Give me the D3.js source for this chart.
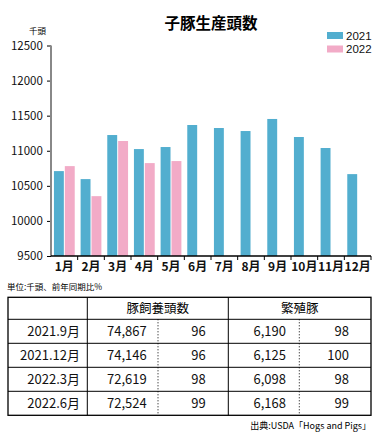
<!DOCTYPE html>
<html>
<head>
<meta charset="utf-8">
<script src="https://cdn.jsdelivr.net/npm/d3@7"></script>
<style>
  body { margin: 0; background: #fff; }
  text { font-family: "Noto Sans CJK JP", "Noto Sans", sans-serif; }
</style>
</head>
<body>
<div id="chart"></div>
<script>
var months = ['1月', '2月', '3月', '4月', '5月', '6月', '7月', '8月', '9月', '10月', '11月', '12月'];
var years = ['2021', '2022'];
var values2021 = [10710, 10596, 11224, 11024, 11053, 11367, 11324, 11281, 11453, 11196, 11039, 10667];
var values2022 = [10781, 10353, 11139, 10824, 10853];
var yTicks = [9500, 10000, 10500, 11000, 11500, 12000, 12500];

var rowLabels = ['2021.9月', '2021.12月', '2022.3月', '2022.6月'];
var hogs = ['74,867', '74,146', '72,619', '72,524'];
var hogsPct = ['96', '96', '98', '99'];
var breeding = ['6,190', '6,125', '6,098', '6,168'];
var breedingPct = ['98', '100', '98', '99'];

var colors = { '2021': '#52aecf', '2022': '#f2abc7' };

var width = 382;
var height = 435;
var margin = { top: 45.5, bottom: 179, left: 51, right: 11 };

var svg = d3.select('#chart')
  .append('svg')
  .attr('width', width)
  .attr('height', height);

// title
svg.append('text')
  .attr('x', 211)
  .attr('y', 29)
  .attr('text-anchor', 'middle')
  .attr('font-size', '15.5px')
  .attr('font-weight', 'bold')
  .text('子豚生産頭数');

svg.append('text')
  .attr('x', 46)
  .attr('y', 34)
  .attr('text-anchor', 'end')
  .attr('font-size', '8.5px')
  .text('千頭');

var x = d3.scaleBand()
  .domain(months)
  .range([margin.left, width - margin.right]);

var x1 = d3.scaleBand()
  .domain(years)
  .range([0, x.bandwidth()])
  .paddingInner(0.09)
  .paddingOuter(0.27);

var y = d3.scaleLinear()
  .domain([9500, 12500])
  .range([height - margin.bottom, margin.top]);

var series = [
  { year: '2021', values: values2021 },
  { year: '2022', values: values2022 }
];

series.forEach(function (s) {
  svg.append('g')
    .attr('fill', colors[s.year])
    .selectAll('rect')
    .data(s.values)
    .join('rect')
    .attr('x', (d, i) => x(months[i]) + x1(s.year))
    .attr('y', d => y(d))
    .attr('width', x1.bandwidth())
    .attr('height', d => y(9500) - y(d));
});

// y axis
var yAxis = svg.append('g')
  .attr('transform', `translate(${margin.left}, 0)`)
  .call(d3.axisLeft(y).tickValues(yTicks).tickSize(4).tickFormat(d3.format('d')));
yAxis.select('.domain').remove();
yAxis.selectAll('text').attr('font-size', '11.5px').attr('fill', '#111').attr('dx', '-0.1em')
  .style('font-family', '"Noto Sans CJK JP", sans-serif');
svg.append('line')
  .attr('x1', margin.left).attr('x2', margin.left)
  .attr('y1', y(12500)).attr('y2', y(9500))
  .attr('stroke', '#888').attr('stroke-width', 2);

// x axis
var xAxisY = y(9500);
svg.append('line')
  .attr('x1', margin.left).attr('x2', width - margin.right)
  .attr('y1', xAxisY).attr('y2', xAxisY)
  .attr('stroke', '#000').attr('stroke-width', 1.3);
svg.append('g')
  .selectAll('line')
  .data(months)
  .join('line')
  .attr('x1', d => x(d) + x.step())
  .attr('x2', d => x(d) + x.step())
  .attr('y1', xAxisY)
  .attr('y2', xAxisY + 4)
  .attr('stroke', '#000');
svg.append('g')
  .selectAll('text')
  .data(months)
  .join('text')
  .attr('x', d => x(d) + x.bandwidth() / 2)
  .attr('y', xAxisY + 15)
  .attr('text-anchor', 'middle')
  .attr('font-size', '12px')
  .attr('font-weight', 'bold')
  .attr('fill', '#111')
  .text(d => d);

// legend
var legend = svg.append('g')
  .selectAll('g')
  .data(years)
  .join('g')
  .attr('transform', (d, i) => `translate(327, ${32 + i * 13.5})`);
legend.append('rect')
  .attr('width', 16).attr('height', 7)
  .attr('fill', d => colors[d]);
legend.append('text')
  .attr('x', 19).attr('y', 7.8)
  .attr('font-size', '11.5px')
  .attr('fill', '#111')
  .style('font-family', '"Liberation Sans", Arial, sans-serif')
  .text(d => d);

// table
svg.append('text')
  .attr('x', 7).attr('y', 290)
  .attr('font-size', '8.5px')
  .text('単位:千頭、前年同期比%');

var tLeft = 8, tRight = 371;
var rowLines = [297.3, 319.3, 343.3, 367.3, 391.3, 415.3];
var colLines = [87.3, 228.3];
var dotLines = [158, 299.3];

var table = svg.append('g');
table.append('rect')
  .attr('x', tLeft).attr('y', rowLines[0])
  .attr('width', tRight - tLeft).attr('height', rowLines[5] - rowLines[0])
  .attr('fill', 'none').attr('stroke', '#000').attr('stroke-width', 1.3);
table.selectAll('.hl')
  .data(rowLines.slice(1, 5))
  .join('line')
  .attr('x1', tLeft).attr('x2', tRight)
  .attr('y1', d => d).attr('y2', d => d)
  .attr('stroke', '#000').attr('stroke-width', 1);
table.selectAll('.vl')
  .data(colLines)
  .join('line')
  .attr('x1', d => d).attr('x2', d => d)
  .attr('y1', rowLines[0]).attr('y2', rowLines[5])
  .attr('stroke', '#000').attr('stroke-width', 1);
table.selectAll('.dl')
  .data(dotLines)
  .join('line')
  .attr('x1', d => d).attr('x2', d => d)
  .attr('y1', rowLines[1]).attr('y2', rowLines[5])
  .attr('stroke', '#000').attr('stroke-width', 1)
  .attr('stroke-dasharray', '1,2');

table.append('text')
  .attr('x', (colLines[0] + colLines[1]) / 2).attr('y', 313)
  .attr('text-anchor', 'middle').attr('font-size', '12.5px')
  .text('豚飼養頭数');
table.append('text')
  .attr('x', (colLines[1] + tRight) / 2).attr('y', 313)
  .attr('text-anchor', 'middle').attr('font-size', '12.5px')
  .text('繁殖豚');

var cols = [
  { data: rowLabels, x: 80 },
  { data: hogs, x: 146.7 },
  { data: hogsPct, x: 205.7 },
  { data: breeding, x: 286 },
  { data: breedingPct, x: 349 }
];
cols.forEach(function (c) {
  table.append('g')
    .selectAll('text')
    .data(c.data)
    .join('text')
    .attr('x', c.x)
    .attr('y', (d, i) => (rowLines[i + 1] + rowLines[i + 2]) / 2 + 4.5)
    .attr('text-anchor', 'end')
    .attr('font-size', '13px')
    .attr('fill', '#111')
    .text(d => d);
});

svg.append('text')
  .attr('x', 371).attr('y', 429)
  .attr('text-anchor', 'end')
  .attr('font-size', '9px')
  .text('出典:USDA「Hogs and Pigs」');
</script>
</body>
</html>
